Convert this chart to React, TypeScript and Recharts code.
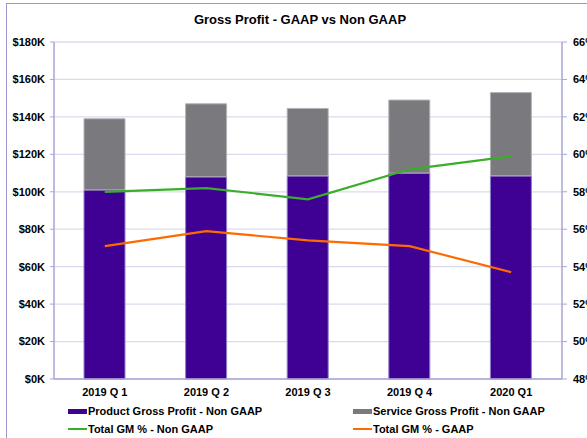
import { Bar, CartesianGrid, ComposedChart, Line, XAxis, YAxis } from 'recharts';

const quarters = ['2019 Q 1', '2019 Q 2', '2019 Q 3', '2019 Q 4', '2020 Q1'];
const productGrossProfit = [101000, 108000, 108500, 110000, 108500];
const serviceGrossProfit = [38000, 39000, 36000, 39000, 44500];
const totalGmNonGaap = [58.0, 58.2, 57.6, 59.2, 59.9];
const totalGmGaap = [55.1, 55.9, 55.4, 55.1, 53.7];

const moneyTicks = [0, 20000, 40000, 60000, 80000, 100000, 120000, 140000, 160000, 180000];
const pctTicks = [48, 50, 52, 54, 56, 58, 60, 62, 64, 66];
const boundaryTicks = [0, 1, 2, 3, 4, 5];

const data = quarters.map((q, i) => ({
  q,
  product: productGrossProfit[i],
  service: serviceGrossProfit[i],
  gmNonGaap: totalGmNonGaap[i],
  gmGaap: totalGmGaap[i],
}));

const FONT = '"Liberation Sans", Arial, sans-serif';
const AXIS = '#aaa4d6';
const tickStyle = { fill: '#000', fontSize: 11, fontWeight: 700, fontFamily: FONT };

const legendItems = [
  { label: 'Product Gross Profit - Non GAAP', color: '#3f0094', kind: 'box' },
  { label: 'Service Gross Profit - Non GAAP', color: '#7a797e', kind: 'box' },
  { label: 'Total GM % - Non GAAP', color: '#3aae2a', kind: 'line' },
  { label: 'Total GM % - GAAP', color: '#ff6a00', kind: 'line' },
];

function LegendEntry({ label, color, kind }: { label: string; color: string; kind: string }) {
  return (
    <div style={{ display: 'flex', alignItems: 'center', height: 14 }}>
      <div
        style={{
          width: 19,
          height: kind === 'box' ? 5 : 2,
          background: color,
          marginRight: 1,
        }}
      />
      <span>{label}</span>
    </div>
  );
}

export default function App() {
  return (
    <div
      style={{
        position: 'fixed',
        left: 0,
        top: 0,
        width: 587,
        height: 438,
        overflow: 'hidden',
        background: '#fff',
        fontFamily: FONT,
      }}
    >
      <div
        style={{
          position: 'absolute',
          left: 6,
          top: 3,
          width: 620,
          height: 470,
          border: '1.5px solid #9d96cf',
        }}
      />
      <div
        style={{
          position: 'absolute',
          left: 0,
          top: 12,
          width: 600,
          textAlign: 'center',
          fontSize: 13,
          lineHeight: '15px',
          fontWeight: 700,
          color: '#000',
        }}
      >
        Gross Profit - GAAP vs Non GAAP
      </div>

      <div style={{ position: 'absolute', left: 0, top: 0 }}>
        <ComposedChart
          width={587}
          height={438}
          data={data}
          margin={{ top: 42, right: 0, bottom: 39, left: 0 }}
        >
          <CartesianGrid vertical={false} stroke="#dcd9ec" strokeWidth={1.3} yAxisId="left" />
          <XAxis
            xAxisId="marks"
            type="number"
            domain={[0, 5]}
            ticks={boundaryTicks}
            tick={false}
            height={0}
            axisLine={false}
            tickLine={{ stroke: AXIS }}
            tickSize={5}
          />
          <XAxis
            dataKey="q"
            height={20}
            tick={tickStyle}
            tickLine={false}
            tickSize={5}
            tickMargin={4}
            axisLine={{ stroke: AXIS, strokeWidth: 1.5 }}
          />
          <YAxis
            yAxisId="left"
            width={54}
            domain={[0, 180000]}
            ticks={moneyTicks}
            tickFormatter={(v: number) => `$${v / 1000}K`}
            tick={tickStyle}
            tickSize={4}
            tickMargin={5}
            tickLine={{ stroke: AXIS }}
            axisLine={{ stroke: AXIS, strokeWidth: 1.5 }}
          />
          <YAxis
            yAxisId="right"
            orientation="right"
            width={25}
            domain={[48, 66]}
            ticks={pctTicks}
            tickFormatter={(v: number) => `${v}%`}
            tick={tickStyle}
            tickSize={5}
            tickMargin={6}
            tickLine={{ stroke: AXIS }}
            axisLine={{ stroke: AXIS, strokeWidth: 1.5 }}
          />
          <Bar
            yAxisId="left"
            dataKey="product"
            stackId="gp"
            barSize={41}
            fill="#3f0094"
            stroke="#8f80cc"
            strokeWidth={1}
            isAnimationActive={false}
          />
          <Bar
            yAxisId="left"
            dataKey="service"
            stackId="gp"
            barSize={41}
            fill="#7a797e"
            stroke="#b4b3b8"
            strokeWidth={1}
            isAnimationActive={false}
          />
          <Line
            yAxisId="right"
            dataKey="gmNonGaap"
            type="linear"
            stroke="#3aae2a"
            strokeWidth={2.2}
            dot={false}
            isAnimationActive={false}
          />
          <Line
            yAxisId="right"
            dataKey="gmGaap"
            type="linear"
            stroke="#ff6a00"
            strokeWidth={2.2}
            dot={false}
            isAnimationActive={false}
          />
        </ComposedChart>
      </div>

      <div
        style={{
          position: 'absolute',
          left: 68,
          top: 404,
          width: 500,
          display: 'grid',
          gridTemplateColumns: '285px 215px',
          rowGap: 4,
          fontSize: 11,
          fontWeight: 700,
          color: '#000',
        }}
      >
        {legendItems.map((it) => (
          <LegendEntry key={it.label} label={it.label} color={it.color} kind={it.kind} />
        ))}
      </div>
    </div>
  );
}
